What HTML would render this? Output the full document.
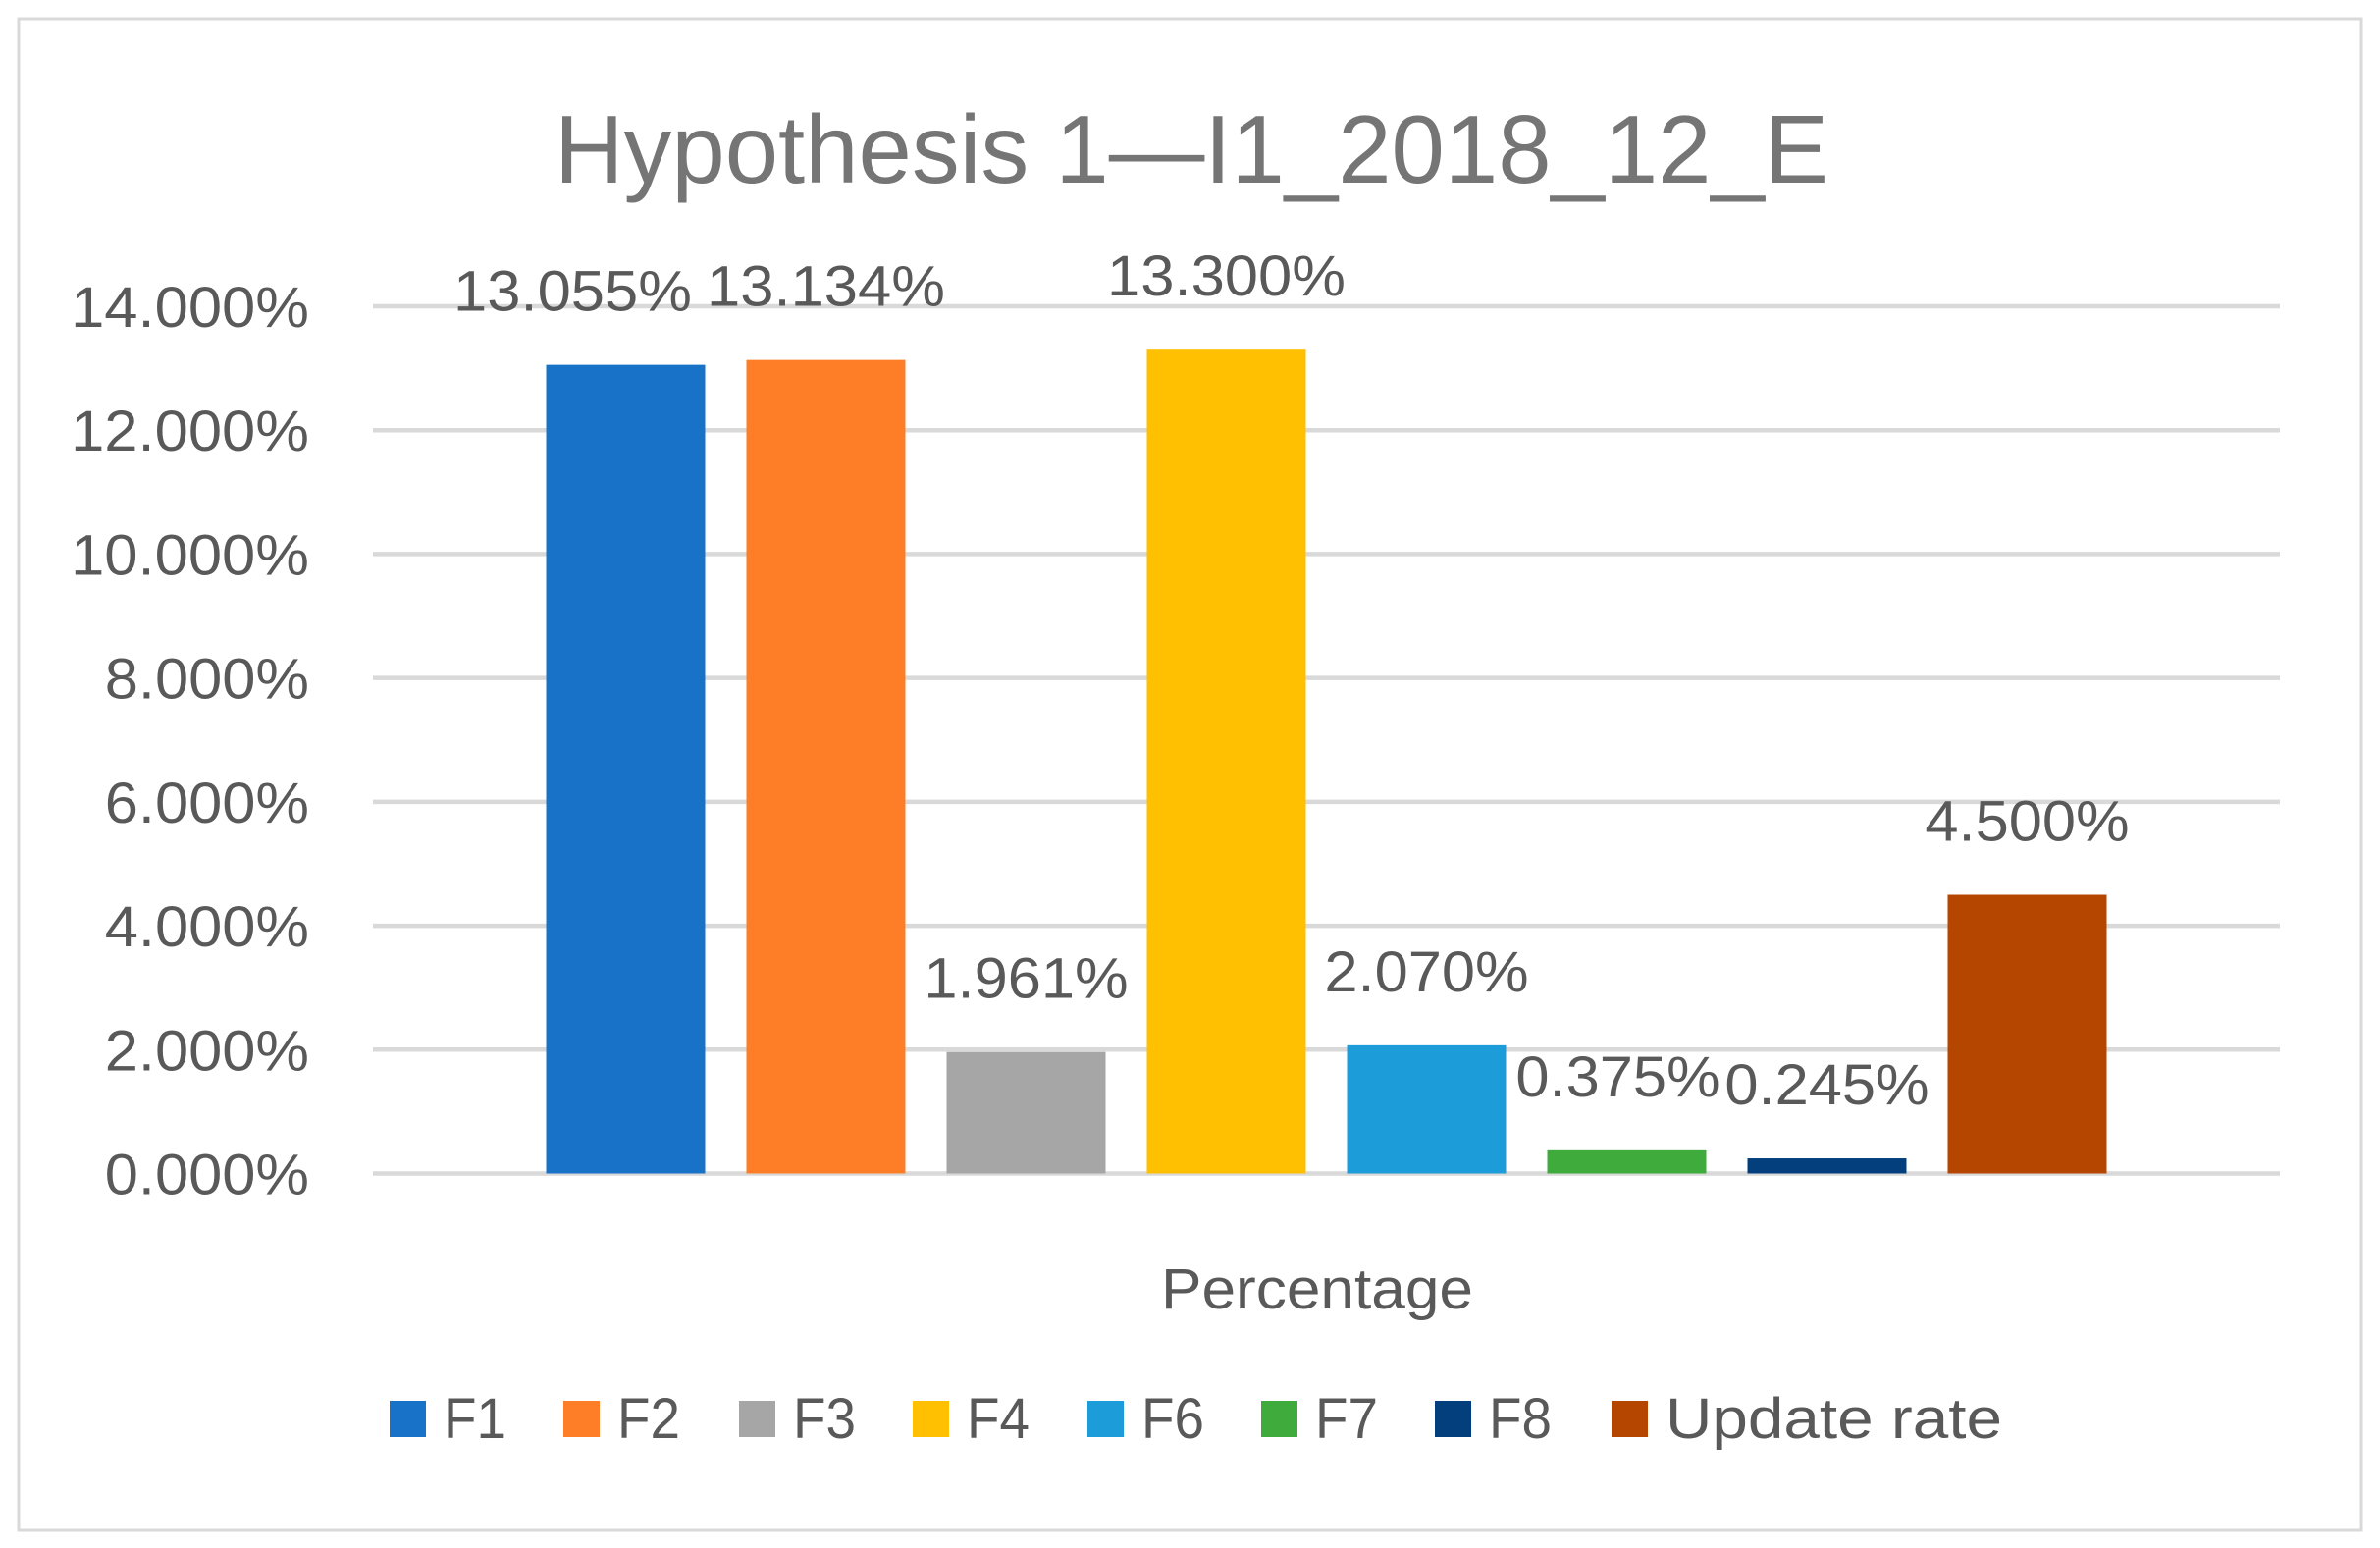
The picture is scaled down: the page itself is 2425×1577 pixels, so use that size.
<!DOCTYPE html>
<html><head><meta charset="utf-8"><style>html,body{margin:0;padding:0;background:#fff}svg{display:block}</style></head>
<body>
<svg id="chart" width="2425" height="1577" viewBox="0 0 2425 1577" xmlns="http://www.w3.org/2000/svg" font-family="Liberation Sans, sans-serif">
<rect x="19" y="19" width="2387" height="1540" fill="#fff" stroke="#d9d9d9" stroke-width="3"/>
<text x="1214" y="186" text-anchor="middle" font-size="98" fill="#757575" textLength="1298" lengthAdjust="spacingAndGlyphs">Hypothesis 1—I1_2018_12_E</text>
<g id="grid"></g><g id="bars"></g><g id="labels"></g>
<text x="1342" y="1333" text-anchor="middle" font-size="58" fill="#595959" textLength="318" lengthAdjust="spacingAndGlyphs">Percentage</text>
<g id="legend"></g>
</svg>
<script>
const categories = ["F1","F2","F3","F4","F6","F7","F8","Update rate"];
const values = [13.055,13.134,1.961,13.300,2.070,0.375,0.245,4.500];
const valueLabels = ["13.055%","13.134%","1.961%","13.300%","2.070%","0.375%","0.245%","4.500%"];
const ticks = [0,2,4,6,8,10,12,14];
const tickLabels = ["0.000%","2.000%","4.000%","6.000%","8.000%","10.000%","12.000%","14.000%"];
const colors = ["#1873c8","#fd7e27","#a6a6a6","#fec000","#1c9cd8","#3fab3c","#033f7c","#b54600"];
const NS="http://www.w3.org/2000/svg";
const labelDx=[-54,0,0,0,0,-9,0,0];
const x0=380,x1=2323,yTop=312,yBot=1195.5,yMax=14;
const y=v=>yBot-(v/yMax)*(yBot-yTop);
const step=204,bw=162,firstCenter=(x0+x1)/2-step*(categories.length-1)/2;
const xc=i=>firstCenter+i*step;
function mk(t,a,p){const e=document.createElementNS(NS,t);for(const k in a)e.setAttribute(k,a[k]);p.appendChild(e);return e;}
const grid=document.getElementById('grid');
ticks.forEach((t,i)=>{
  const l=mk('line',{x1:x0,x2:x1,y1:y(t),y2:y(t),stroke:'#d9d9d9','stroke-width':4.5},grid);
  
  
  const tx=mk('text',{x:315,y:y(t)+21,'text-anchor':'end','font-size':58,fill:'#595959',textLength:tickLabels[i].length*34.7,lengthAdjust:'spacingAndGlyphs'},grid);
  tx.textContent=tickLabels[i];
  
  
});
const bars=document.getElementById('bars'),labels=document.getElementById('labels');
values.forEach((v,i)=>{
  const r=mk('rect',{x:xc(i)-bw/2,y:y(v),width:bw,height:yBot-y(v),fill:colors[i]},bars);
  
  
  const t=mk('text',{x:xc(i)+labelDx[i],y:y(v)-55,'text-anchor':'middle','font-size':58,fill:'#595959',textLength:valueLabels[i].length*34.7,lengthAdjust:'spacingAndGlyphs'},labels);
  t.textContent=valueLabels[i];
  
  
});
const legX=[397,574,753,930,1108,1285,1462,1642];
const lg=document.getElementById('legend');
categories.forEach((c,i)=>{
  const g=mk('g',{},lg);
  
  
  mk('rect',{x:legX[i],y:1427,width:37,height:37,fill:colors[i]},g);
  const t=mk('text',{x:legX[i]+55,y:1465,'font-size':58,fill:'#595959',textLength:c==='Update rate'?343:64,lengthAdjust:'spacingAndGlyphs'},g);
  t.textContent=c;
});
</script>
</body></html>
